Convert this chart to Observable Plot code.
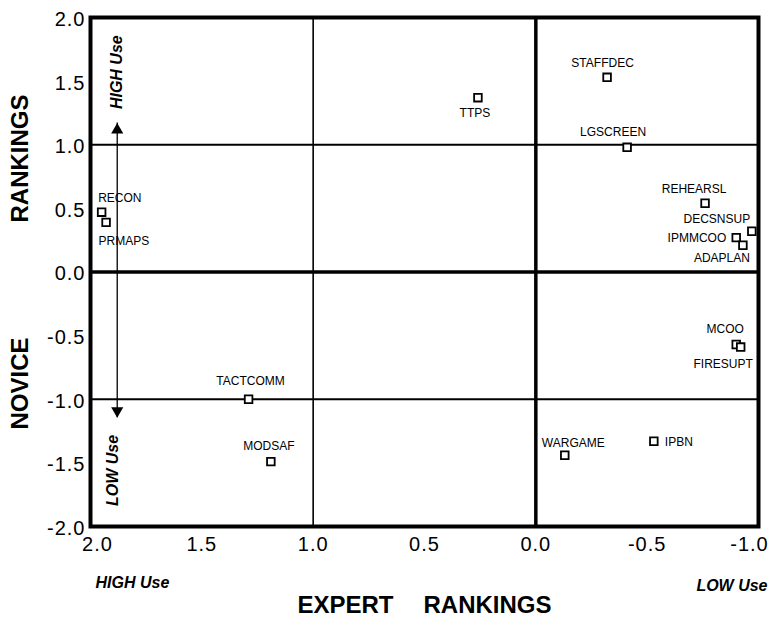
<!DOCTYPE html>
<html><head><meta charset="utf-8">
<script src="https://cdn.jsdelivr.net/npm/d3@7"></script>
<script src="https://cdn.jsdelivr.net/npm/@observablehq/plot@0.6"></script>
<style>
html,body{margin:0;padding:0;background:#fff;}
g[aria-label$="tick label"] text{letter-spacing:1px;}
</style>
</head><body><div id="chart"></div>
<script>
// ---- data ----
const names  = ["STAFFDEC","TTPS","LGSCREEN","REHEARSL","DECSNSUP","IPMMCOO","ADAPLAN","RECON","PRMAPS","MCOO","FIRESUPT","TACTCOMM","MODSAF","WARGAME","IPBN"];
const expert = [-0.32, 0.26, -0.41, -0.76, -0.97, -0.90, -0.93, 1.95, 1.93, -0.90, -0.92, 1.29, 1.19, -0.13, -0.53];
const novice = [ 1.53, 1.37,  0.98,  0.54,  0.32,  0.27,  0.21, 0.47, 0.39, -0.57, -0.59, -1.00, -1.49, -1.44, -1.33];
const xTicks = [2, 1.5, 1, 0.5, 0, -0.5, -1];
const yTicks = [2, 1.5, 1, 0.5, 0, -0.5, -1, -1.5, -2];
const thickRulesX = [0], thinRulesX = [1];
const thickRulesY = [0], thinRulesY = [1, -1];
const arrowX = 1.88, arrowTop = 1.17, arrowBottom = -1.145;
const xTitle = "EXPERT\u2003\u2005RANKINGS";
const yTitleWords = ["RANKINGS", "NOVICE"];
const useLabels = ["HIGH Use", "LOW Use"];

// label placement (anchor, dx, dy) – layout only
const labelPlacement = {
  STAFFDEC: ["middle", -4.5, -14], TTPS: ["middle", -3, 15.5], LGSCREEN: ["middle", -14, -15],
  REHEARSL: ["middle", -11, -14], DECSNSUP: ["middle", -35, -12], IPMMCOO: ["end", -10, 1],
  ADAPLAN: ["middle", -21, 13], RECON: ["start", -3.5, -14.5], PRMAPS: ["start", -7.5, 19],
  MCOO: ["middle", -11, -15.5], FIRESUPT: ["middle", -17.5, 17], TACTCOMM: ["middle", 2, -18],
  MODSAF: ["middle", -2, -15], WARGAME: ["middle", 8.5, -12.5], IPBN: ["start", 11, 1]
};

const points = names.map((n, i) => ({name: n, expert: expert[i], novice: novice[i]}));
const labelMarks = points.map(p => {
  const [anchor, dx, dy] = labelPlacement[p.name];
  return Plot.text([p], {x: "expert", y: "novice", text: "name", textAnchor: anchor, dx, dy, fontSize: 12, fill: "black"});
});

const fmt = d => d.toFixed(1);
const chart = Plot.plot({
  width: 770, height: 618,
  marginLeft: 90, marginRight: 12, marginTop: 17, marginBottom: 92,
  style: {fontFamily: "'Liberation Sans', Arial, Helvetica, sans-serif", fontSize: "20px", background: "#fff", color: "#000"},
  x: {domain: [2, -1]},
  y: {domain: [-2, 2]},
  marks: [
    Plot.ruleX(thinRulesX, {stroke: "black", strokeWidth: 1.6}),
    Plot.ruleY(thinRulesY, {stroke: "black", strokeWidth: 2}),
    Plot.ruleX(thickRulesX, {stroke: "black", strokeWidth: 3.5}),
    Plot.ruleY(thickRulesY, {stroke: "black", strokeWidth: 3.5}),
    Plot.frame({stroke: "black", strokeWidth: 4}),
    // double arrow
    Plot.ruleX([arrowX], {y1: arrowTop, y2: arrowBottom, stroke: "black", strokeWidth: 1.3}),
    Plot.dot([{x: arrowX, y: arrowTop}], {x: "x", y: "y", symbol: "triangle", r: 4.5, fill: "black", stroke: "none", dy: 7}),
    Plot.dot([{x: arrowX, y: arrowBottom}], {x: "x", y: "y", symbol: "triangle", r: 4.5, fill: "black", stroke: "none", rotate: 180, dy: -7}),
    Plot.text([useLabels[0]], {x: () => arrowX, y: () => 1.57, text: d => d, rotate: -90, fontSize: 16, fontWeight: "bold", fontStyle: "italic"}),
    Plot.text([useLabels[1]], {x: () => 1.90, y: () => -1.56, text: d => d, rotate: -90, fontSize: 16, fontWeight: "bold", fontStyle: "italic"}),
    // points
    Plot.dot(points, {x: "expert", y: "novice", symbol: "square", r: 4.3, fill: "white", stroke: "black", strokeWidth: 1.8}),
    ...labelMarks,
    // axes
    Plot.axisX(xTicks.filter(t => t !== 2 && t !== -1), {tickFormat: fmt, tickSize: 0, tickPadding: 10, label: null}),
    Plot.axisX([2], {tickFormat: fmt, tickSize: 0, tickPadding: 10, dx: 7, label: null}),
    Plot.axisX([-1], {tickFormat: fmt, tickSize: 0, tickPadding: 10, dx: -9, label: null}),
    Plot.axisY(yTicks, {tickFormat: fmt, tickSize: 0, tickPadding: 5, dy: 2, label: null}),
    // titles
    Plot.text([useLabels[0]], {frameAnchor: "bottom-left", text: d => d, textAnchor: "start", dx: 5, dy: 61, fontSize: 16, fontWeight: "bold", fontStyle: "italic"}),
    Plot.text([useLabels[1]], {frameAnchor: "bottom-right", text: d => d, textAnchor: "end", dx: 9, dy: 64, fontSize: 16, fontWeight: "bold", fontStyle: "italic"}),
    Plot.text([xTitle], {frameAnchor: "bottom", text: d => d, dy: 86, fontSize: 24, fontWeight: "bold"}),
    Plot.text([yTitleWords[0]], {frameAnchor: "left", text: d => d, textAnchor: "middle", rotate: -90, dx: -70, dy: -113.5, fontSize: 24, fontWeight: "bold"}),
    Plot.text([yTitleWords[1]], {frameAnchor: "left", text: d => d, textAnchor: "middle", rotate: -90, dx: -70, dy: 111.5, fontSize: 24, fontWeight: "bold"})
  ]
});
document.getElementById("chart").appendChild(chart);
</script>
</body></html>
